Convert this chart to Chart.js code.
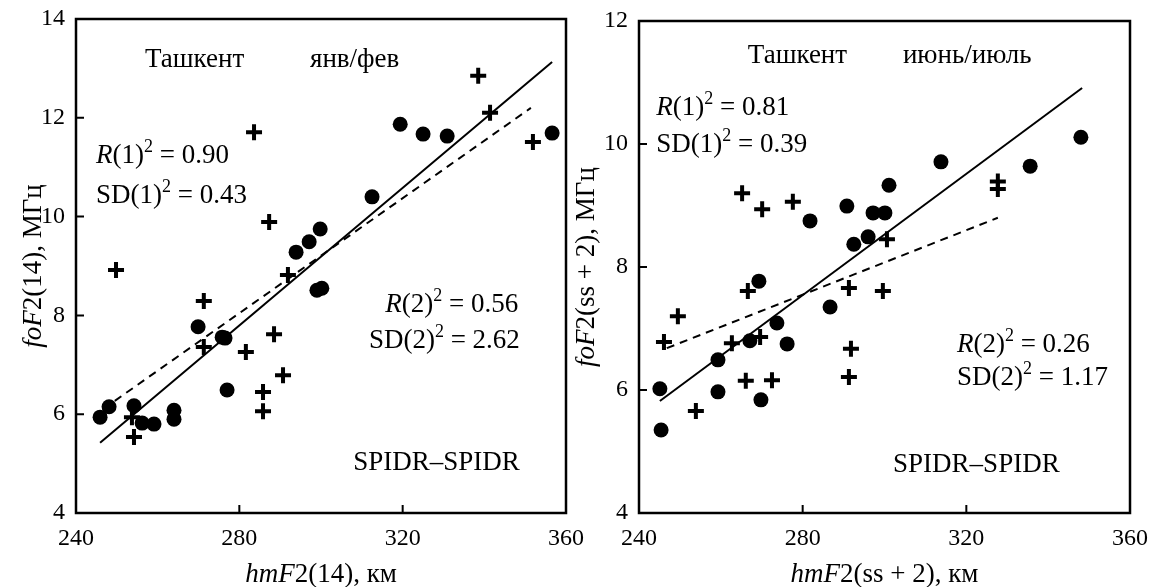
<!DOCTYPE html>
<html>
<head>
<meta charset="utf-8">
<script src="https://cdn.jsdelivr.net/npm/chart.js@4"></script>
<style>
  body { margin: 0; background: #fff; }
  #wrap { position: relative; width: 1156px; height: 587px; }
  .box { position: absolute; top: 0; height: 587px; }
</style>
</head>
<body>
<div id="wrap">
  <div class="box" style="left:0;width:600px"><canvas id="jan" width="600" height="587"></canvas></div>
  <div class="box" style="left:560px;width:596px"><canvas id="jun" width="596" height="587"></canvas></div>
</div>
<script>
// tick values
const xTicks = [240, 280, 320, 360];
const janYTicks = [4, 6, 8, 10, 12, 14];
const junYTicks = [4, 6, 8, 10, 12];

// Jan/Feb panel: hmF2(14) vs foF2(14)
const janDotX = [319.4, 325.0, 330.9, 356.6, 312.5, 299.8, 297.1, 293.9, 299.0, 300.2, 269.9,
                 275.8, 276.5, 277.0, 248.1, 245.9, 254.2, 256.2, 259.1, 264.0, 264.0];
const janDotY = [11.87, 11.67, 11.63, 11.69, 10.40, 9.75, 9.49, 9.28, 8.51, 8.55, 7.77,
                 7.56, 7.54, 6.49, 6.15, 5.94, 6.17, 5.82, 5.80, 6.08, 5.90];
const janCrossX = [338.5, 341.4, 351.9, 283.6, 287.3, 249.8, 291.9, 271.3, 271.3, 288.5, 281.6,
                   290.7, 285.8, 285.8, 253.7, 254.2];
const janCrossY = [12.85, 12.10, 11.51, 11.71, 9.89, 8.92, 8.82, 8.29, 7.36, 7.62, 7.26,
                   6.79, 6.45, 6.06, 5.94, 5.54];
const janFitX = [245.9, 356.6];
const janFitY = [5.42, 13.13];
const janDashX = [249.5, 351.4];
const janDashY = [6.27, 12.2];

// Jun/Jul panel: hmF2(ss+2) vs foF2(ss+2)
const junDotX = [281.8, 290.8, 297.2, 300.1, 301.1, 313.8, 335.6, 348.0, 296.0, 292.5,
                 269.3, 286.7, 273.7, 267.1, 276.2, 259.3, 245.1, 259.3, 269.8, 245.4];
const junDotY = [8.75, 8.99, 8.88, 8.88, 9.33, 9.71, 9.64, 10.11, 8.49, 8.37,
                 7.77, 7.35, 7.09, 6.80, 6.75, 6.49, 6.02, 5.97, 5.84, 5.35];
const junCrossX = [265.2, 270.1, 277.6, 327.7, 327.7, 300.6, 266.6, 291.3, 299.6, 249.5,
                   246.1, 262.7, 269.6, 291.8, 266.1, 272.5, 291.3, 253.9];
const junCrossY = [9.20, 8.94, 9.06, 9.39, 9.27, 8.45, 7.61, 7.66, 7.61, 7.20,
                   6.78, 6.76, 6.86, 6.67, 6.15, 6.16, 6.21, 5.66];
const junFitX = [245.1, 348.3];
const junFitY = [5.82, 10.91];
const junDashX = [246.8, 327.7];
const junDashY = [6.68, 8.80];

const SERIF = '"Liberation Serif", "Times New Roman", serif';
const zip = (xs, ys) => xs.map((x, i) => ({ x: x, y: ys[i] }));

// "*R*(1)^2^" -> italic R, superscript 2
function parse(s) {
  const parts = [];
  let it = false, sup = false, buf = '';
  for (const ch of s) {
    if (ch === '*' || ch === '^') {
      if (buf) parts.push({ t: buf, it, sup });
      buf = '';
      if (ch === '*') it = !it; else sup = !sup;
    } else buf += ch;
  }
  if (buf) parts.push({ t: buf, it, sup });
  return parts;
}

function drawRich(ctx, s, x, y, size, align) {
  const parts = parse(s);
  const fontOf = p => (p.it ? 'italic ' : '') + Math.round(p.sup ? size * 0.65 : size) + 'px ' + SERIF;
  let w = 0;
  parts.forEach(p => { ctx.font = fontOf(p); w += ctx.measureText(p.t).width; });
  let cx = align === 'right' ? x - w : align === 'center' ? x - w / 2 : x;
  ctx.textAlign = 'left';
  ctx.textBaseline = 'alphabetic';
  ctx.fillStyle = '#000';
  parts.forEach(p => {
    ctx.font = fontOf(p);
    ctx.fillText(p.t, cx, p.sup ? y - size * 0.4 : y);
    cx += ctx.measureText(p.t).width;
  });
}

// box around plot + inward tick marks
const framePlugin = {
  id: 'frame',
  afterDatasetsDraw(chart) {
    const { ctx, chartArea: a, scales } = chart;
    ctx.save();
    ctx.strokeStyle = '#000';
    ctx.lineWidth = 2;
    ctx.beginPath();
    scales.x.ticks.forEach(t => {
      const px = scales.x.getPixelForValue(t.value);
      ctx.moveTo(px, a.bottom); ctx.lineTo(px, a.bottom - 8);
    });
    scales.y.ticks.forEach(t => {
      const py = scales.y.getPixelForValue(t.value);
      ctx.moveTo(a.left, py); ctx.lineTo(a.left + 8, py);
    });
    ctx.stroke();
    ctx.lineWidth = 2.5;
    ctx.strokeRect(a.left, a.top, a.right - a.left, a.bottom - a.top);
    ctx.restore();
  }
};

const notesPlugin = {
  id: 'notes',
  afterDraw(chart, args, opts) {
    const { ctx, chartArea: a, scales } = chart;
    ctx.save();
    (opts.items || []).forEach(n => {
      drawRich(ctx, n.text, scales.x.getPixelForValue(n.x), scales.y.getPixelForValue(n.y), 27, n.align || 'left');
    });
    drawRich(ctx, opts.xTitle, (a.left + a.right) / 2, 582, 27, 'center');
    ctx.translate(opts.yTitleX, (a.top + a.bottom) / 2);
    ctx.rotate(-Math.PI / 2);
    drawRich(ctx, opts.yTitle, 0, 0, 27, 'center');
    ctx.restore();
  }
};

function makeChart(id, c) {
  return new Chart(document.getElementById(id), {
    type: 'scatter',
    data: {
      datasets: [
        { data: zip(c.fitX, c.fitY), showLine: true, borderColor: '#000', borderWidth: 2, pointRadius: 0 },
        { data: zip(c.dashX, c.dashY), showLine: true, borderColor: '#000', borderWidth: 2, borderDash: [8, 6], pointRadius: 0 },
        { data: zip(c.dotX, c.dotY), pointStyle: 'circle', pointRadius: 7.5, backgroundColor: '#000', borderWidth: 0 },
        { data: zip(c.crossX, c.crossY), pointStyle: 'cross', pointRadius: 8, borderColor: '#000', borderWidth: 4 }
      ]
    },
    options: {
      responsive: false,
      animation: false,
      events: [],
      layout: { padding: { left: 0, top: c.top, right: c.right, bottom: 0 } },
      plugins: { legend: { display: false }, tooltip: { enabled: false }, notes: c.notes },
      scales: {
        x: {
          type: 'linear', min: 240, max: 360,
          afterBuildTicks: s => { s.ticks = xTicks.map(v => ({ value: v })); },
          grid: { display: false, drawTicks: false }, border: { display: false },
          ticks: { font: { family: SERIF, size: 24 }, color: '#000', padding: 11, maxRotation: 0 },
          afterFit: s => { s.height = 74; s.paddingLeft = 0; s.paddingRight = 0; }
        },
        y: {
          type: 'linear', min: 4, max: c.yMax,
          afterBuildTicks: s => { s.ticks = c.yTicks.map(v => ({ value: v })); },
          grid: { display: false, drawTicks: false }, border: { display: false },
          ticks: { font: { family: SERIF, size: 24 }, color: '#000', padding: 11 },
          afterFit: s => { s.width = c.yWidth; s.paddingTop = 0; s.paddingBottom = 0; }
        }
      }
    },
    plugins: [framePlugin, notesPlugin]
  });
}

makeChart('jan', {
  dotX: janDotX, dotY: janDotY, crossX: janCrossX, crossY: janCrossY,
  fitX: janFitX, fitY: janFitY, dashX: janDashX, dashY: janDashY,
  yTicks: janYTicks, yMax: 14, top: 19, right: 34, yWidth: 76,
  notes: {
    xTitle: '*hmF*2(14), км', yTitle: '*foF*2(14), МГц', yTitleX: 41,
    items: [
      { text: 'Ташкент', x: 256.9, y: 13.03 },
      { text: 'янв/фев', x: 297.3, y: 13.03 },
      { text: '*R*(1)^2^ = 0.90', x: 244.9, y: 11.08 },
      { text: 'SD(1)^2^ = 0.43', x: 244.9, y: 10.28 },
      { text: '*R*(2)^2^ = 0.56', x: 348.3, y: 8.07, align: 'right' },
      { text: 'SD(2)^2^ = 2.62', x: 348.7, y: 7.34, align: 'right' },
      { text: 'SPIDR–SPIDR', x: 348.7, y: 4.87, align: 'right' }
    ]
  }
});

makeChart('jun', {
  dotX: junDotX, dotY: junDotY, crossX: junCrossX, crossY: junCrossY,
  fitX: junFitX, fitY: junFitY, dashX: junDashX, dashY: junDashY,
  yTicks: junYTicks, yMax: 12, top: 21, right: 26, yWidth: 79,
  notes: {
    xTitle: '*hmF*2(ss + 2), км', yTitle: '*foF*2(ss + 2), МГц', yTitleX: 34,
    items: [
      { text: 'Ташкент', x: 266.6, y: 11.32 },
      { text: 'июнь/июль', x: 304.5, y: 11.32 },
      { text: '*R*(1)^2^ = 0.81', x: 244.2, y: 10.47 },
      { text: 'SD(1)^2^ = 0.39', x: 244.2, y: 9.87 },
      { text: '*R*(2)^2^ = 0.26', x: 317.7, y: 6.62 },
      { text: 'SD(2)^2^ = 1.17', x: 317.7, y: 6.08 },
      { text: 'SPIDR–SPIDR', x: 302.1, y: 4.67 }
    ]
  }
});
</script>
</body>
</html>
